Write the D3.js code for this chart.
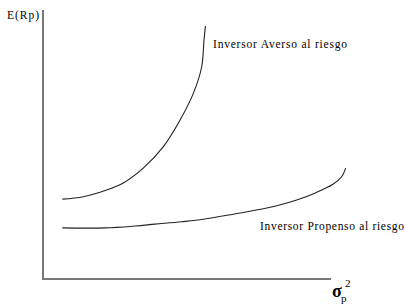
<!DOCTYPE html>
<html>
<head>
<meta charset="utf-8">
<script src="https://cdn.jsdelivr.net/npm/d3@7"></script>
<style>
  body { margin: 0; background: #fff; }
</style>
</head>
<body>
<div id="chart"></div>
<script>
// curve values in arbitrary units (variance, expected return)
var aversoVar = [6.7, 14.0, 22.1, 27.9, 34.8, 41.8, 47.6, 52.2, 55.1, 55.9, 56.4];
var aversoRet = [29.7, 30.6, 33.1, 35.7, 41.2, 49.2, 59.1, 69.0, 78.9, 88.8, 94.1];
var propensoVar = [6.7, 21.5, 31.9, 38.9, 48.2, 55.7, 66.1, 77.7, 88.1, 95.0, 100.8, 103.7, 105.1];
var propensoRet = [19.0, 19.0, 19.7, 20.4, 21.3, 22.2, 24.1, 26.4, 29.4, 32.2, 35.3, 38.0, 41.2];
var labels = ["Inversor Averso al riesgo", "Inversor Propenso al riesgo"];
var yLabel = "E(Rp)";

var W = 405, H = 306;
var serif = "'Liberation Serif', 'Times New Roman', 'DejaVu Serif', serif";
var svg = d3.select("#chart").append("svg")
    .attr("width", W)
    .attr("height", H);

var x = d3.scaleLinear().domain([0, 100]).range([43, 331]);
var y = d3.scaleLinear().domain([0, 100]).range([279, 10]);

// axes: plain gray lines, no ticks
svg.append("line")
    .attr("x1", x(0)).attr("y1", y(0))
    .attr("x2", x(0)).attr("y2", y(100))
    .attr("stroke", "#777").attr("stroke-width", 2);
svg.append("line")
    .attr("x1", x(0) - 1).attr("y1", y(0))
    .attr("x2", x(100)).attr("y2", y(0))
    .attr("stroke", "#777").attr("stroke-width", 2);

var line = d3.line()
    .x(function(d) { return x(d[0]); })
    .y(function(d) { return y(d[1]); })
    .curve(d3.curveCatmullRom.alpha(0.5));

var averso = d3.zip(aversoVar, aversoRet);
var propenso = d3.zip(propensoVar, propensoRet);

svg.selectAll("path.curve")
    .data([averso, propenso])
    .enter().append("path")
    .attr("class", "curve")
    .attr("d", line)
    .attr("fill", "none")
    .attr("stroke", "#222")
    .attr("stroke-width", 1.1);

function label(tx, ty, size, str, len) {
  var t = svg.append("text")
      .attr("x", tx).attr("y", ty)
      .attr("font-family", serif)
      .attr("font-size", size)
      .attr("fill", "#000")
      .text(str);
  if (len) t.attr("textLength", len).attr("lengthAdjust", "spacing");
  return t;
}

label(7, 19, 11.5, yLabel, 32);
label(213, 47.5, 11.5, labels[0], 134);
label(260, 229.5, 11.5, labels[1], 144);

// sigma_p^2 axis label
label(332, 297, 18, "σ").attr("font-weight", "bold");
label(341, 301.5, 11, "p");
label(345, 286.5, 11, "2");
</script>
</body>
</html>
